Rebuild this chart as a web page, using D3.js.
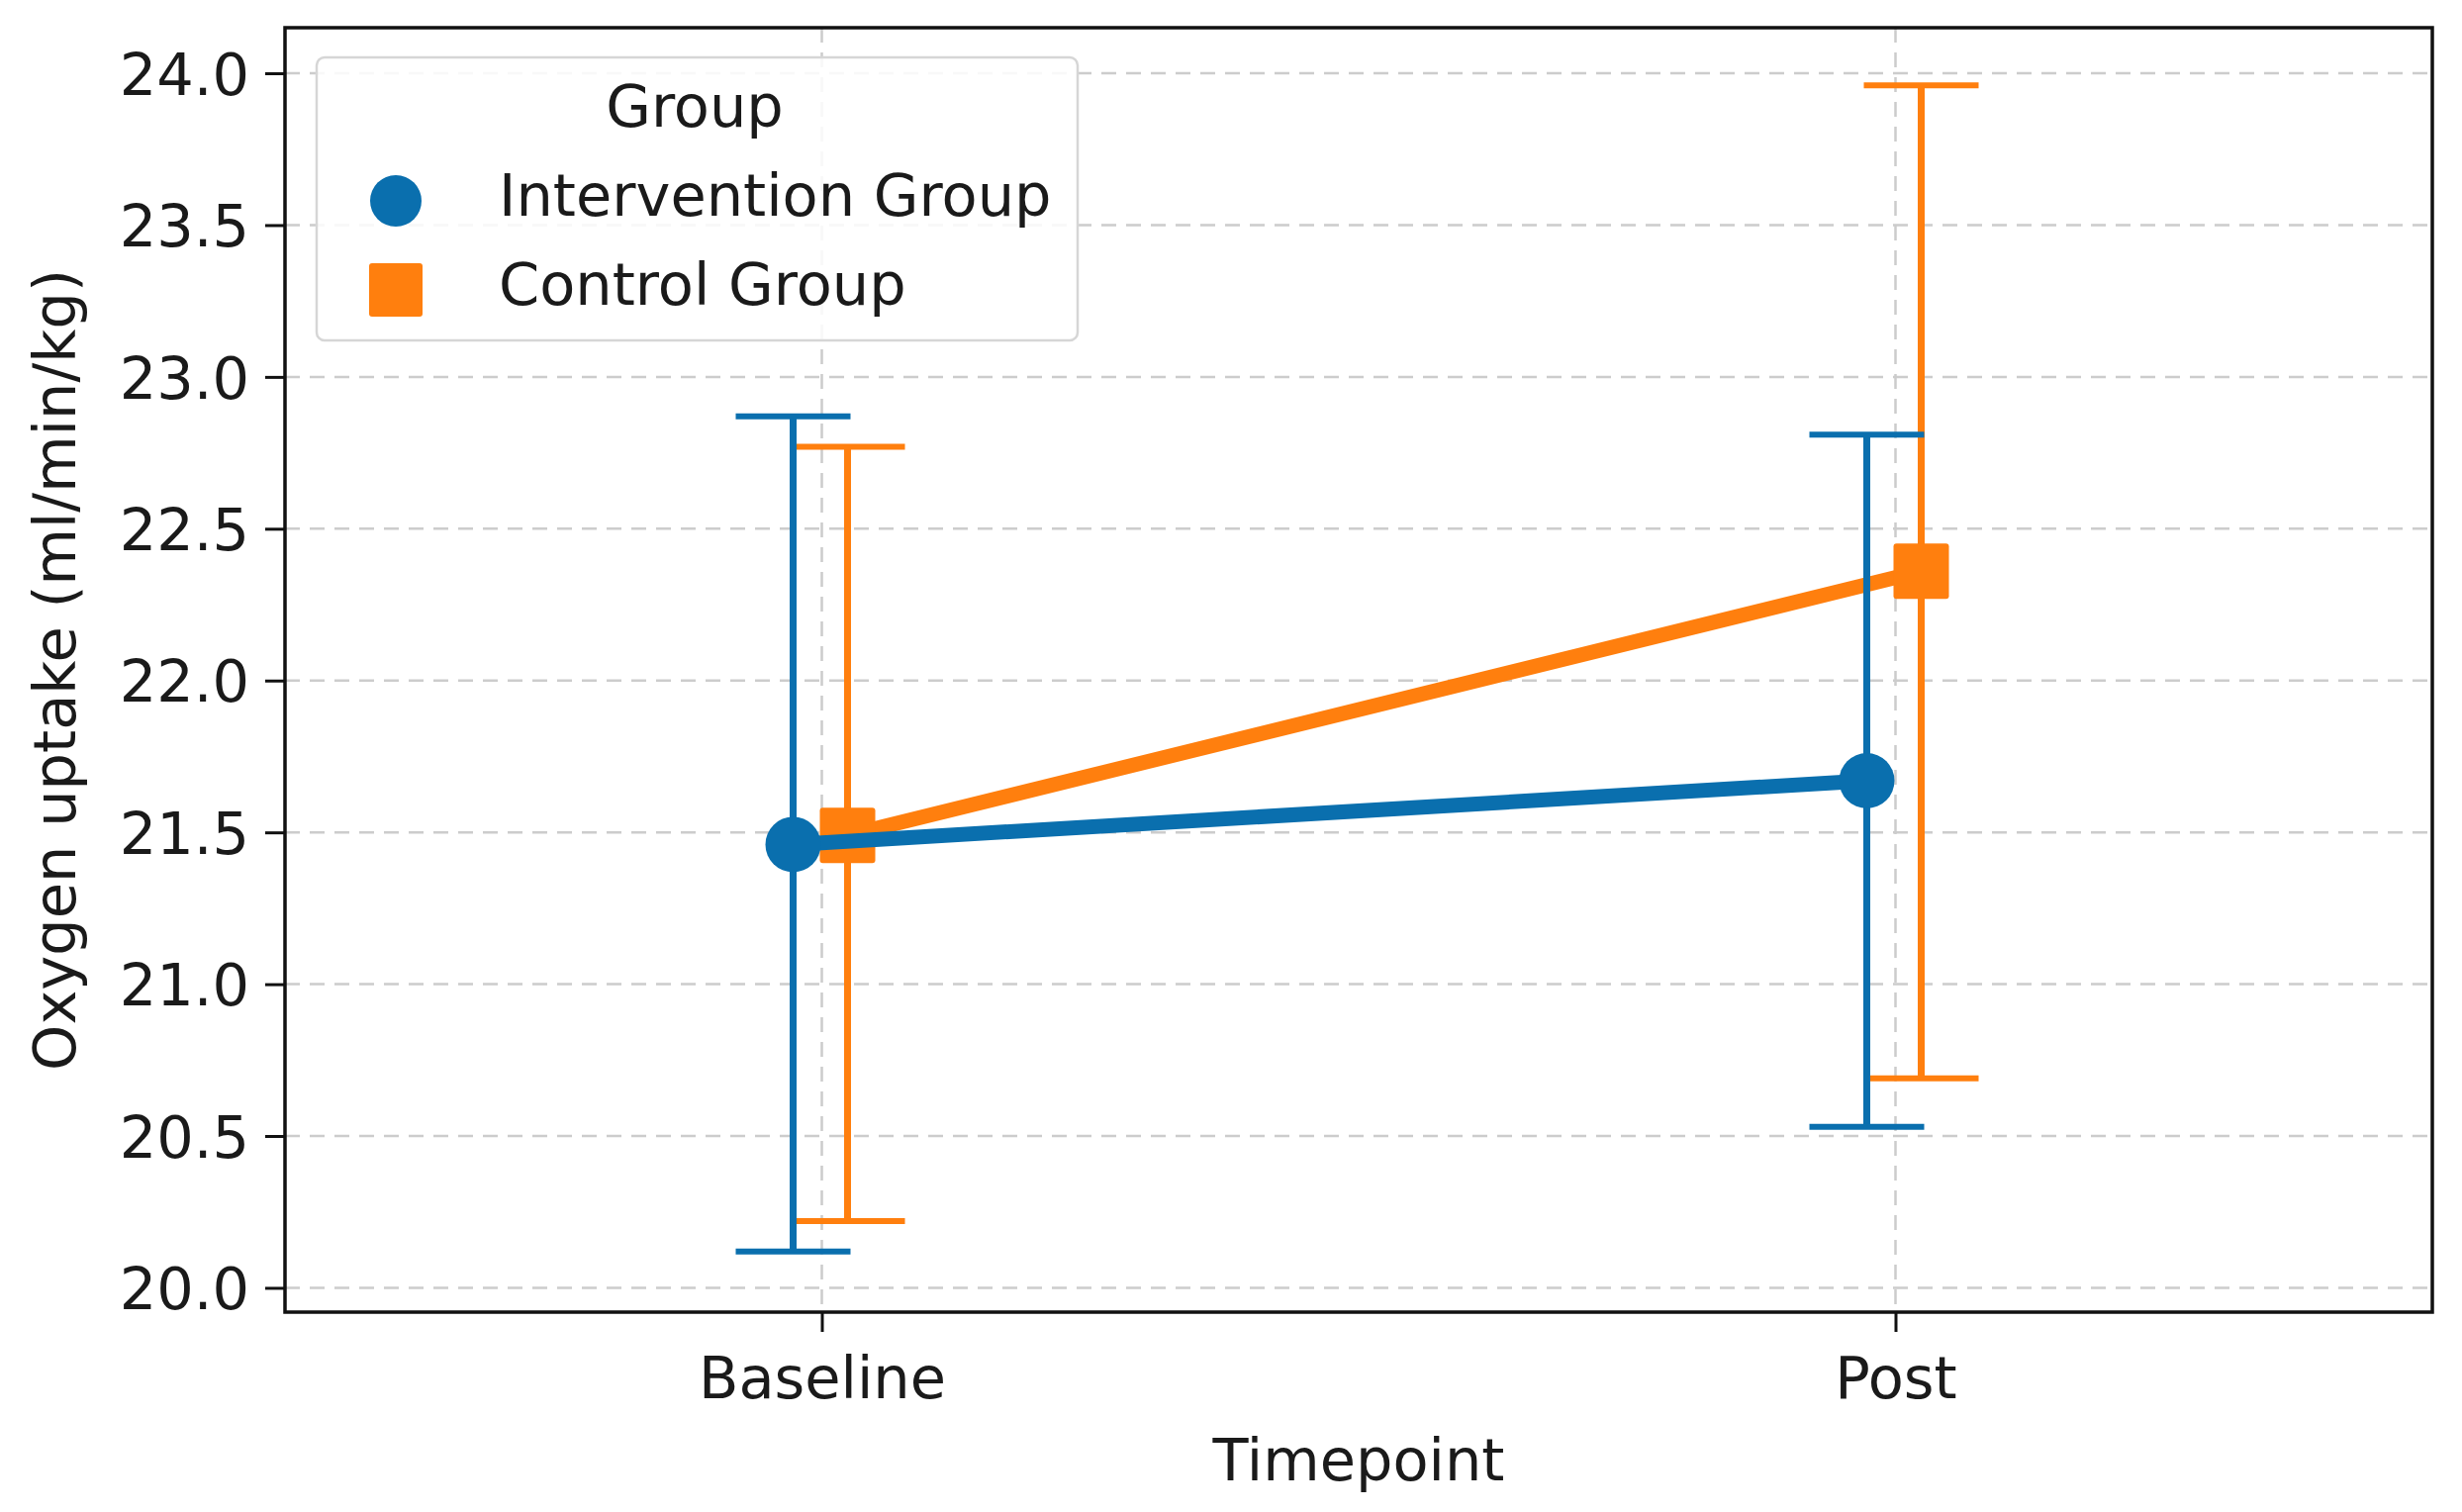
<!DOCTYPE html>
<html>
<head>
<meta charset="utf-8">
<script src="https://cdn.jsdelivr.net/npm/d3@7"></script>
<style>
  body { margin: 0; background: #fff; }
  svg text { font-family: "DejaVu Sans", sans-serif; fill: #1a1a1a; }
</style>
</head>
<body>
<svg id="chart" width="2488" height="1528"></svg>
<script>
// values
var timepoints = ["Baseline", "Post"];
var groups = ["Intervention Group", "Control Group"];
var interventionMean = [21.46, 21.67];
var interventionLow = [20.12, 20.53];
var interventionHigh = [22.87, 22.81];
var controlMean = [21.49, 22.36];
var controlLow = [20.22, 20.69];
var controlHigh = [22.77, 23.96];
var yTicks = [20.0, 20.5, 21.0, 21.5, 22.0, 22.5, 23.0, 23.5, 24.0];

var colors = { "Intervention Group": "#0a6fae", "Control Group": "#ff7f0e" };
var dodge = { "Intervention Group": -29, "Control Group": 26 };

var margin = { left: 288, right: 30, top: 28, bottom: 202 },
    W = 2488, H = 1528,
    plotW = W - margin.left - margin.right,
    plotH = H - margin.top - margin.bottom,
    fontSize = 59;

var svg = d3.select("#chart");

var x = d3.scalePoint().domain(timepoints).range([margin.left, margin.left + plotW]).padding(0.5);
var y = d3.scaleLinear().domain([19.92, 24.15]).range([margin.top + plotH, margin.top]);

function buildSeries(name, mean, low, high) {
    return timepoints.map(function(t, i) {
        return { group: name, t: t, mean: mean[i], low: low[i], high: high[i] };
    });
}

var series = [
    buildSeries("Control Group", controlMean, controlLow, controlHigh),
    buildSeries("Intervention Group", interventionMean, interventionLow, interventionHigh)
];

function px(d) { return x(d.t) + dodge[d.group]; }

// grid
var grid = svg.append("g").attr("class", "grid");
grid.selectAll("line.h").data(yTicks).enter().append("line")
    .attr("x1", margin.left).attr("x2", margin.left + plotW)
    .attr("y1", function(d) { return y(d); }).attr("y2", function(d) { return y(d); })
    .attr("stroke", "#cccccc").attr("stroke-width", 2.5).attr("stroke-dasharray", "15,10");
grid.selectAll("line.v").data(timepoints).enter().append("line")
    .attr("x1", function(d) { return x(d); }).attr("x2", function(d) { return x(d); })
    .attr("y1", margin.top).attr("y2", margin.top + plotH)
    .attr("stroke", "#cccccc").attr("stroke-width", 2.5).attr("stroke-dasharray", "15,10");

// series
var line = d3.line().x(px).y(function(d) { return y(d.mean); });
var capHalf = 58;

series.forEach(function(s) {
    var g = svg.append("g"), col = colors[s[0].group];

    g.selectAll("line.err").data(s).enter().append("line")
        .attr("x1", px).attr("x2", px)
        .attr("y1", function(d) { return y(d.low); }).attr("y2", function(d) { return y(d.high); })
        .attr("stroke", col).attr("stroke-width", 7);
    g.selectAll("line.capHi").data(s).enter().append("line")
        .attr("x1", function(d) { return px(d) - capHalf; }).attr("x2", function(d) { return px(d) + capHalf; })
        .attr("y1", function(d) { return y(d.high); }).attr("y2", function(d) { return y(d.high); })
        .attr("stroke", col).attr("stroke-width", 6);
    g.selectAll("line.capLo").data(s).enter().append("line")
        .attr("x1", function(d) { return px(d) - capHalf; }).attr("x2", function(d) { return px(d) + capHalf; })
        .attr("y1", function(d) { return y(d.low); }).attr("y2", function(d) { return y(d.low); })
        .attr("stroke", col).attr("stroke-width", 6);

    g.append("path").datum(s).attr("d", line)
        .attr("fill", "none").attr("stroke", col).attr("stroke-width", 15);

    if (s[0].group == "Intervention Group") {
        g.selectAll("circle").data(s).enter().append("circle")
            .attr("cx", px).attr("cy", function(d) { return y(d.mean); })
            .attr("r", 28).attr("fill", col);
    } else {
        g.selectAll("rect").data(s).enter().append("rect")
            .attr("x", function(d) { return px(d) - 28; }).attr("y", function(d) { return y(d.mean) - 28; })
            .attr("width", 56).attr("height", 56).attr("rx", 3).attr("fill", col);
    }
});

// axes
var yAxis = svg.append("g").attr("transform", "translate(" + margin.left + ",0)")
    .call(d3.axisLeft(y).tickValues(yTicks).tickFormat(d3.format(".1f")).tickSize(20).tickPadding(16));
var xAxis = svg.append("g").attr("transform", "translate(0," + (margin.top + plotH) + ")")
    .call(d3.axisBottom(x).tickSize(20).tickPadding(12));

[yAxis, xAxis].forEach(function(a) {
    a.select(".domain").remove();
    a.selectAll(".tick line").attr("stroke", "#111").attr("stroke-width", 3);
    a.selectAll(".tick text").attr("font-size", fontSize).attr("fill", "#1a1a1a")
        .style("font-family", "'DejaVu Sans', sans-serif");
});
yAxis.selectAll(".tick text").attr("dy", "0.36em");
xAxis.selectAll(".tick text").attr("dy", "0.94em");

svg.append("rect")
    .attr("x", margin.left).attr("y", margin.top)
    .attr("width", plotW).attr("height", plotH)
    .attr("fill", "none").attr("stroke", "#111").attr("stroke-width", 3.5);

// axis titles
svg.append("text").attr("x", margin.left + plotW / 2).attr("y", 1496)
    .attr("text-anchor", "middle").attr("font-size", fontSize).text("Timepoint");
svg.append("text").attr("transform", "translate(76," + (margin.top + plotH / 2) + ") rotate(-90)")
    .attr("text-anchor", "middle").attr("font-size", fontSize).text("Oxygen uptake (ml/min/kg)");

// legend
var legend = svg.append("g");
legend.append("rect").attr("x", 320).attr("y", 58).attr("width", 769).attr("height", 286)
    .attr("rx", 8).attr("fill", "#fff").attr("fill-opacity", 0.85)
    .attr("stroke", "#d6d6d6").attr("stroke-width", 2.5);
legend.append("text").attr("x", 702).attr("y", 128).attr("text-anchor", "middle")
    .attr("font-size", fontSize).text("Group");

var items = legend.selectAll("g.item").data(groups).enter().append("g")
    .attr("transform", function(d, i) { return "translate(400," + (203 + i * 90) + ")"; });
items.each(function(d) {
    var it = d3.select(this);
    if (d == "Intervention Group") {
        it.append("circle").attr("r", 26).attr("fill", colors[d]);
    } else {
        it.append("rect").attr("x", -27).attr("y", -27).attr("width", 54).attr("height", 54)
            .attr("rx", 3).attr("fill", colors[d]);
    }
    it.append("text").attr("x", 104).attr("y", 15).attr("font-size", fontSize).text(d);
});
</script>
</body>
</html>
